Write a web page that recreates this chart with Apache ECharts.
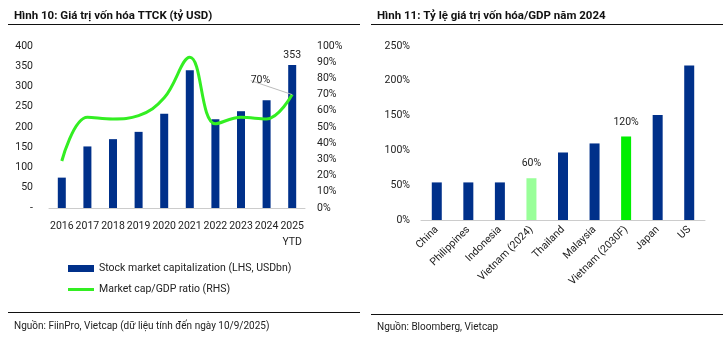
<!DOCTYPE html>
<html><head><meta charset="utf-8">
<script src="https://cdn.jsdelivr.net/npm/echarts@6/dist/echarts.min.js"></script>
<style>html,body{margin:0;padding:0;background:#fff}#c{width:727px;height:337px}</style>
</head><body><div id="c"></div>
<script>
const years = ['2016','2017','2018','2019','2020','2021','2022','2023','2024','2025\nYTD'];
const marketCap = [75, 152, 170, 188, 233, 340, 219, 239, 266, 353];
const capGdpRatio = [29, 56, 55, 57, 68, 93, 52, 56, 55, 70];
const leftTicks = ['-', '50', '100', '150', '200', '250', '300', '350', '400'];
const countries = ['China','Philippines','Indonesia','Vietnam (2024)','Thailand','Malaysia','Vietnam (2030F)','Japan','US'];
const ratio2024 = [54, 54, 54, 60, 97, 110, 120, 151, 222];

const NAVY = '#00308a', GREEN = '#33ee22', LIGHTG = '#99ff99', BRIGHTG = '#00ee00';
const FONT = 'Roboto';
const txt = {fontFamily: FONT, fontSize: 10.5, color: '#222'};
const chart = echarts.init(document.getElementById('c'), null, {renderer: 'canvas'});

const barColors = countries.map(c => c === 'Vietnam (2024)' ? LIGHTG : (c === 'Vietnam (2030F)' ? BRIGHTG : NAVY));
const lastIdx = capGdpRatio.length - 1;

chart.setOption({
  animation: false,
  textStyle: {fontFamily: FONT},
  title: [
    {text: 'Hình 10: Giá trị vốn hóa TTCK (tỷ USD)', left: 9, top: 5, textStyle: {fontFamily: FONT, fontSize: 11.5, fontWeight: 'bold', color: '#111'}},
    {text: 'Hình 11: Tỷ lệ giá trị vốn hóa/GDP năm 2024', left: 372, top: 5, textStyle: {fontFamily: FONT, fontSize: 11.5, fontWeight: 'bold', color: '#111'}},
    {text: 'Nguồn: FiinPro, Vietcap (dữ liệu tính đến ngày 10/9/2025)', left: 9, top: 316, textStyle: {fontFamily: FONT, fontSize: 10, fontWeight: 'normal', color: '#222'}},
    {text: 'Nguồn: Bloomberg, Vietcap', left: 372, top: 317, textStyle: {fontFamily: FONT, fontSize: 10, fontWeight: 'normal', color: '#222'}}
  ],
  graphic: [
    {type: 'line', shape: {x1: 8, y1: 24.5, x2: 360, y2: 24.5}, style: {stroke: '#111', lineWidth: 1}},
    {type: 'line', shape: {x1: 371, y1: 24.5, x2: 723, y2: 24.5}, style: {stroke: '#111', lineWidth: 1}},
    {type: 'line', shape: {x1: 8, y1: 312.5, x2: 360, y2: 312.5}, style: {stroke: '#111', lineWidth: 1}},
    {type: 'line', shape: {x1: 371, y1: 314.5, x2: 723, y2: 314.5}, style: {stroke: '#111', lineWidth: 1}}
  ],
  legend: {
    orient: 'vertical', left: 63, top: 258, itemGap: 10, itemWidth: 26, itemHeight: 7,
    textStyle: {fontFamily: FONT, fontSize: 10.5, color: '#222'},
    data: [
      {name: 'Stock market capitalization (LHS, USDbn)', icon: 'rect'},
      {name: 'Market cap/GDP ratio (RHS)', icon: 'path://M0,0L26,0L26,3L0,3Z'}
    ]
  },
  grid: [
    {left: 49, top: 46, width: 256, height: 162},
    {left: 421, top: 46, width: 284, height: 174}
  ],
  xAxis: [
    {type: 'category', gridIndex: 0, data: years,
     axisLine: {lineStyle: {color: '#ccc'}}, axisTick: {show: false},
     axisLabel: Object.assign({}, txt, {margin: 10, interval: 0, lineHeight: 16})},
    {type: 'category', gridIndex: 1, data: countries,
     axisLine: {lineStyle: {color: '#ccc'}}, axisTick: {show: false},
     axisLabel: Object.assign({}, txt, {margin: 8, interval: 0, rotate: 45})}
  ],
  yAxis: [
    {type: 'value', gridIndex: 0, min: 0, max: 400, interval: 50,
     splitLine: {show: false}, axisLine: {show: false}, axisTick: {show: false},
     axisLabel: Object.assign({}, txt, {margin: 16, formatter: (v) => leftTicks[Math.round(v / 50)]})},
    {type: 'value', gridIndex: 0, min: 0, max: 100, interval: 10, position: 'right',
     splitLine: {show: false}, axisLine: {show: false}, axisTick: {show: false},
     axisLabel: Object.assign({}, txt, {margin: 12, formatter: '{value}%'})},
    {type: 'value', gridIndex: 1, min: 0, max: 250, interval: 50,
     splitLine: {show: false}, axisLine: {show: false}, axisTick: {show: false},
     axisLabel: Object.assign({}, txt, {margin: 11, formatter: '{value}%'})}
  ],
  series: [
    {name: 'Stock market capitalization (LHS, USDbn)', type: 'bar', xAxisIndex: 0, yAxisIndex: 0,
     data: marketCap.map((v, i) => i === marketCap.length - 1
       ? {value: v, label: {show: true, position: 'top', distance: 4, fontFamily: FONT, fontSize: 10.5, color: '#222'}}
       : v),
     barWidth: 8, itemStyle: {color: NAVY}},
    {name: 'Market cap/GDP ratio (RHS)', type: 'line', xAxisIndex: 0, yAxisIndex: 1,
     data: capGdpRatio.map((v, i) => i === lastIdx
       ? {value: v, label: {show: true, position: 'left', distance: 2, formatter: '{c}%', fontFamily: FONT, fontSize: 10.5, color: '#222'}}
       : v),
     labelLayout: (p) => p.dataIndex === lastIdx ? {dx: -20, dy: -14} : {},
     labelLine: {show: true, lineStyle: {color: '#bbb', width: 1}},
     smooth: 0.4, symbol: 'circle', symbolSize: 0, showSymbol: true,
     lineStyle: {color: GREEN, width: 3}, itemStyle: {color: GREEN}},
    {name: 'ratio', type: 'bar', xAxisIndex: 1, yAxisIndex: 2,
     data: ratio2024.map((v, i) => ({
       value: v, itemStyle: {color: barColors[i]},
       label: {show: countries[i].startsWith('Vietnam'), position: 'top', distance: 9, formatter: '{c}%', fontFamily: FONT, fontSize: 10.5, color: '#222'}
     })),
     barWidth: 10}
  ]
});
</script></body></html>
